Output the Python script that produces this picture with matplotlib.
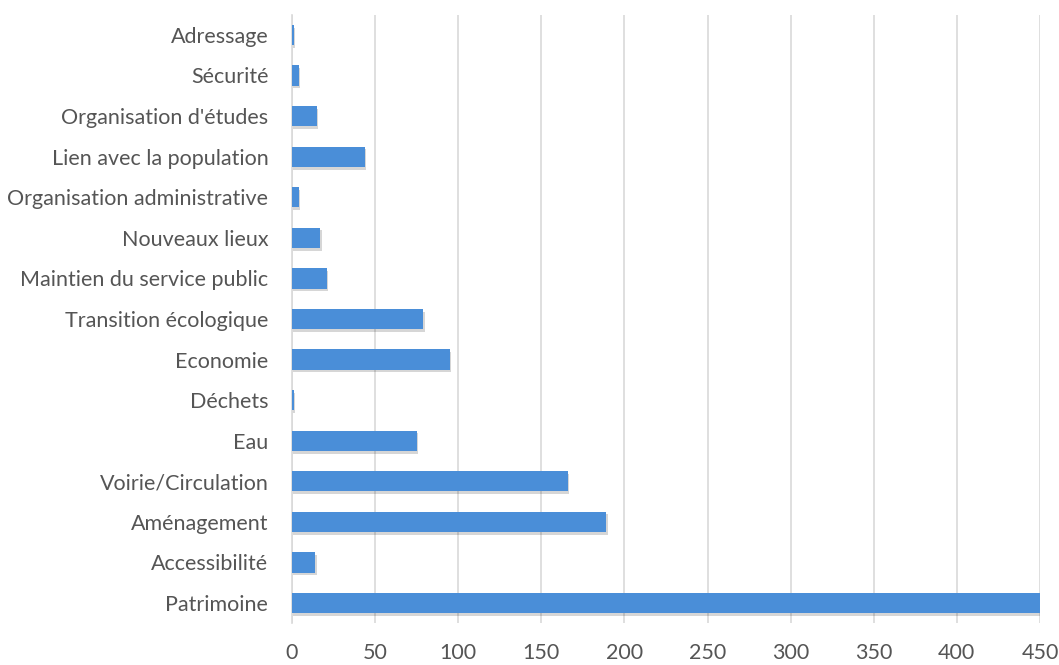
import numpy as np
import matplotlib.pyplot as plt
import matplotlib.patheffects as pe

categories = ['Patrimoine', 'Accessibilité', 'Aménagement', 'Voirie/Circulation', 'Eau',
              'Déchets', 'Economie', 'Transition écologique', 'Maintien du service public',
              'Nouveaux lieux', 'Organisation administrative', "Lien avec la population",
              "Organisation d'études", 'Sécurité', 'Adressage']
values = [450, 14, 189, 166, 75, 1, 95, 79, 21, 17, 4, 44, 15, 4, 1]
xticks = [0, 50, 100, 150, 200, 250, 300, 350, 400, 450]

plt.rcParams['font.family'] = ['Lato', 'DejaVu Sans']

fig = plt.figure(figsize=(10.59, 6.65), dpi=100)
ax = fig.add_axes([0.2757, 0.0627, 0.7063, 0.9153])

y = np.arange(len(categories))
bars = ax.barh(y, values, height=0.5, color='#4a8ed8', zorder=3)
for b in bars:
    b.set_path_effects([pe.SimplePatchShadow(offset=(1, -2), shadow_rgbFace='#333333', alpha=0.2),
                        pe.Normal()])

ax.set_xlim(0, 450)
ax.set_ylim(-0.5, len(categories) - 0.5)
ax.set_yticks(y)
ax.set_yticklabels(categories, fontsize=15.5, color='#555555')
ax.set_xticks(xticks)
ax.set_xticklabels([str(t) for t in xticks], fontsize=15.5, color='#555555')
ax.tick_params(axis='both', length=0)
ax.tick_params(axis='y', pad=17)
ax.tick_params(axis='x', pad=14)
ax.xaxis.grid(True, color='#d9d9d9', linewidth=1.2, zorder=0)
for s in ['top', 'right', 'bottom']:
    ax.spines[s].set_visible(False)
ax.spines['left'].set_color('#d9d9d9')
ax.spines['left'].set_linewidth(1.2)

fig.savefig('out.png', dpi=100)
